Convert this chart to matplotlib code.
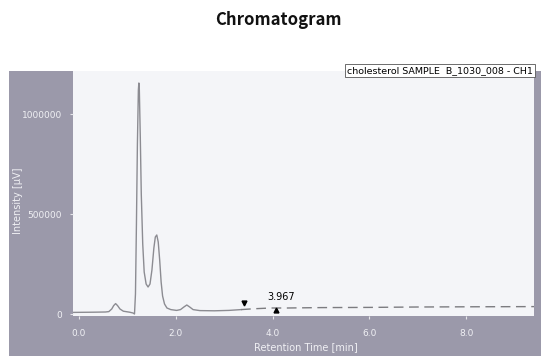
import numpy as np
import matplotlib
matplotlib.use("Agg")
import matplotlib.pyplot as plt
from matplotlib.patches import Rectangle

# chromatogram trace (min, uV)
rt = [-0.12, 0.30, 0.55, 0.62, 0.68, 0.72, 0.76, 0.80, 0.85, 0.92, 1.05, 1.12, 1.15,
      1.17, 1.19, 1.21, 1.23, 1.24, 1.25, 1.27, 1.29, 1.32, 1.35, 1.39, 1.43,
      1.47, 1.51, 1.55, 1.58, 1.61, 1.64, 1.67, 1.70, 1.73, 1.77, 1.82, 1.90,
      2.02, 2.10, 2.17, 2.23, 2.29, 2.36, 2.50, 2.80, 3.10, 3.35]
signal = [8000, 9000, 10000, 12000, 25000, 42000, 52000, 42000, 25000, 14000, 9000, 5000, 0,
          100000, 450000, 850000, 1120000, 1155000, 1120000, 880000, 600000, 350000, 210000, 150000, 135000,
          150000, 220000, 330000, 385000, 395000, 360000, 270000, 160000, 90000, 50000, 30000, 22000,
          18000, 22000, 35000, 45000, 35000, 22000, 17000, 16000, 18000, 22000]

# tail of the trace after 3.35 min (drawn broken in the scan)
rt_tail = [3.35, 3.60, 3.967, 4.30, 5.00, 6.00, 7.00, 8.00, 9.40]
signal_tail = [22000, 26000, 30000, 30000, 32000, 33000, 35000, 36000, 37000]

peak_label = "3.967"
peak_rt = 3.967
peak_start = (3.42, 55000)
peak_end = (4.08, 18000)

sample_name = "cholesterol SAMPLE  B_1030_008 - CH1"
xticks = [0.0, 2.0, 4.0, 6.0, 8.0]
yticks = [0, 500000, 1000000]

W, H = 541, 356
fig = plt.figure(figsize=(W / 100, H / 100), dpi=100)
fig.patch.set_facecolor("white")

frame = "#9b99aa"
left, right, top, bottom = 73, 534, 71, 316
fig.patches.append(Rectangle((9 / W, 0), 1 - 9 / W, (H - top) / H,
                             transform=fig.transFigure, facecolor=frame,
                             edgecolor="none", zorder=-5))

ax = fig.add_axes([left / W, (H - bottom) / H, (right - left) / W, (bottom - top) / H])
ax.set_zorder(2)
ax.set_facecolor("#f4f5f8")
for s in ax.spines.values():
    s.set_visible(False)

ax.plot(rt, signal, color="#8c8c92", lw=1.0)
ax.plot(rt_tail, signal_tail, color="#7c7c80", lw=1.0, ls=(0, (7, 4)))

# peak markers
ax.plot(*peak_start, marker="v", color="black", ms=3.5, ls="none")
ax.plot(*peak_end, marker="^", color="black", ms=3.5, ls="none")
ax.text(peak_rt - 0.07, 62000, peak_label, fontsize=7, color="black",
        ha="left", va="bottom")

ax.set_xlim(-0.12, 9.4)
ax.set_ylim(-10000, 1215000)
ax.set_xticks(xticks)
ax.set_xticklabels([f"{v:.1f}" for v in xticks])
ax.set_yticks(yticks)
ax.set_yticklabels([str(v) for v in yticks])
ax.tick_params(axis="both", colors="#e6e6ea", labelcolor="#f0f0f4",
               labelsize=6.5, length=2)
ax.tick_params(axis="x", pad=7)
ax.tick_params(axis="y", pad=6)

ax.set_xlabel("Retention Time [min]", color="#f0f0f4", fontsize=7)
ax.set_ylabel("Intensity [\u03bcV]", color="#f0f0f4", fontsize=7)
ax.xaxis.set_label_coords(0.505, -0.108)
ax.yaxis.set_label_coords(-0.108, 0.47)

ax.text(0.998, 1.02, sample_name, transform=ax.transAxes, ha="right", va="top",
        fontsize=6.8, color="black",
        bbox=dict(boxstyle="square,pad=0.25", facecolor="white",
                  edgecolor="#555555", linewidth=0.6))

fig.text(278 / W, 1 - 20 / H, "Chromatogram", ha="center", va="center",
         fontsize=12, fontweight="bold", color="#111111",
         family=["Noto Sans CJK JP", "DejaVu Sans"])

fig.savefig("out.png", dpi=100)
